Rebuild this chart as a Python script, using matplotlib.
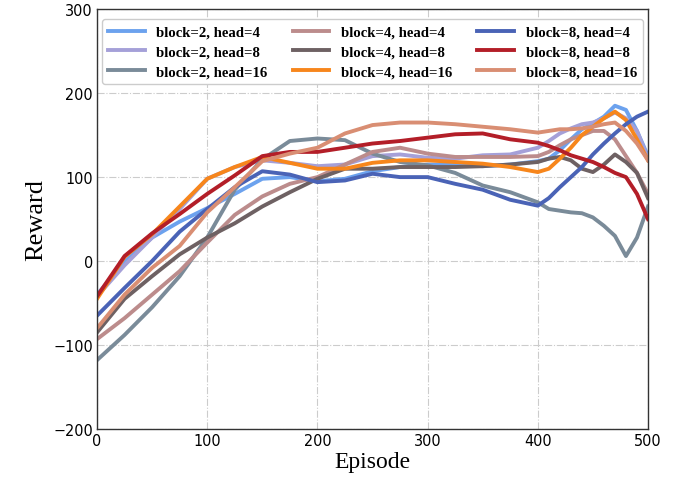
import numpy as np
import matplotlib
matplotlib.use('Agg')
import matplotlib.pyplot as plt

# 数据
episodes = [0, 25, 50, 75, 100, 125, 150, 175, 200, 225, 250, 275, 300, 325, 350, 375,
            400, 410, 420, 430, 440, 450, 460, 470, 480, 490, 500]

b2_h4 = [-40, -1, 28, 47, 63, 80, 98, 100, 95, 98, 107, 112, 115, 115, 113, 115,
         119, 122, 132, 145, 157, 164, 172, 185, 180, 155, 125]
b2_h8 = [-42, -5, 28, 62, 98, 112, 120, 117, 113, 115, 125, 127, 123, 122, 126, 127,
         135, 143, 152, 158, 163, 165, 170, 177, 170, 155, 122]
b2_h16 = [-118, -88, -55, -18, 28, 85, 121, 143, 146, 144, 128, 118, 114, 105, 90, 82,
          70, 62, 60, 58, 57, 52, 42, 30, 6, 28, 65]
b4_h4 = [-93, -68, -40, -12, 22, 55, 77, 92, 100, 115, 130, 135, 128, 124, 124, 124,
         125, 130, 138, 145, 150, 155, 155, 145, 125, 105, 80]
b4_h8 = [-85, -45, -18, 8, 28, 45, 65, 82, 98, 110, 110, 112, 112, 112, 113, 115,
         118, 122, 124, 120, 110, 106, 115, 127, 118, 105, 75]
b4_h16 = [-45, 5, 32, 65, 98, 112, 124, 117, 110, 110, 117, 120, 120, 118, 116, 112,
          106, 110, 122, 135, 150, 160, 170, 178, 168, 145, 120]
b8_h4 = [-65, -32, 0, 35, 62, 88, 107, 103, 94, 96, 104, 100, 100, 92, 85, 73,
         66, 75, 88, 100, 112, 127, 140, 152, 163, 172, 178]
b8_h8 = [-42, 6, 33, 56, 80, 102, 125, 130, 130, 135, 140, 143, 147, 151, 152, 145,
         141, 137, 132, 126, 122, 118, 112, 105, 100, 80, 50]
b8_h16 = [-80, -40, -8, 18, 58, 88, 119, 128, 135, 152, 162, 165, 165, 163, 160, 157,
          153, 155, 157, 157, 158, 160, 163, 165, 155, 140, 120]

series = [b2_h4, b2_h8, b2_h16, b4_h4, b4_h8, b4_h16, b8_h4, b8_h8, b8_h16]
labels = ['block=2, head=4', 'block=2, head=8', 'block=2, head=16',
          'block=4, head=4', 'block=4, head=8', 'block=4, head=16',
          'block=8, head=4', 'block=8, head=8', 'block=8, head=16']
colors = ['#6CA2EE', '#A5A0D8', '#7A8B99',
          '#BC8C8C', '#6E6163', '#F7861C',
          '#4A63B6', '#B31E28', '#D98E73']

fig = plt.figure(figsize=(6.89, 4.85), dpi=100)
ax = fig.add_axes([0.1408, 0.1134, 0.7997, 0.8656])

x = np.array(episodes)
for vals, lab, c in zip(series, labels, colors):
    ax.plot(x, vals, color=c, lw=2.8, label=lab, solid_joinstyle='round')

ax.set_xlim(0, 500)
ax.set_ylim(-200, 300)
ax.set_xticks([0, 100, 200, 300, 400, 500])
ax.set_yticks([-200, -100, 0, 100, 200, 300])
ax.grid(True, linestyle='-.', color='#cccccc', lw=0.8)
ax.set_axisbelow(True)

for s in ax.spines.values():
    s.set_color('#333333')
    s.set_linewidth(1.0)
ax.tick_params(length=0, pad=3)
for t in ax.get_xticklabels() + ax.get_yticklabels():
    t.set_fontfamily('DejaVu Sans')
    t.set_fontstretch('condensed')
    t.set_fontsize(11.5)

ax.set_xlabel('Episode', fontfamily='Liberation Serif', fontsize=17, labelpad=2)
ax.set_ylabel('Reward', fontfamily='Liberation Serif', fontsize=19, labelpad=4)

# 图例
leg = ax.legend(loc='upper center', ncol=3, bbox_to_anchor=(0.5, 0.993),
                prop={'family': 'Liberation Serif', 'weight': 'bold', 'size': 10.6},
                handlelength=2.5, handletextpad=0.8, columnspacing=1.7,
                labelspacing=0.45, fancybox=True, framealpha=1, edgecolor='#cccccc')

fig.savefig('out.png', dpi=100)
